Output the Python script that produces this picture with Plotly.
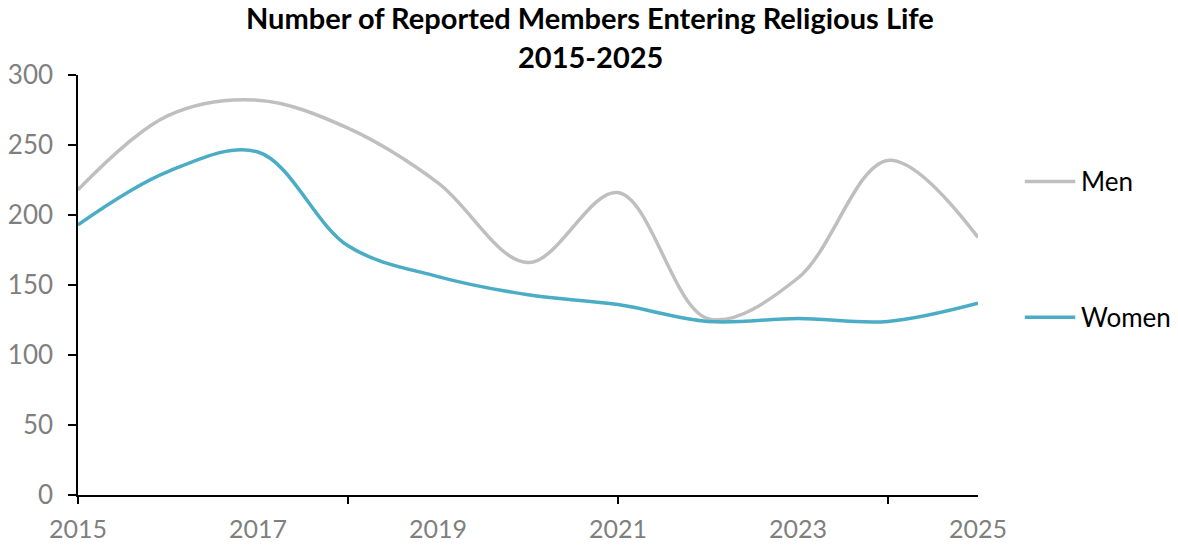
import plotly.graph_objects as go

years = [2015, 2016, 2017, 2018, 2019, 2020, 2021, 2022, 2023, 2024, 2025]
men = [218, 271, 282, 262, 223, 166, 216, 126, 155, 239, 184]
women = [193, 231, 245, 178, 156, 143, 136, 124, 126, 124, 137]
series_names = ["Men", "Women"]
colors = ["#bfbfbf", "#4bacc6"]
x_labels = [2015, 2017, 2019, 2021, 2023, 2025]
y_ticks = [0, 50, 100, 150, 200, 250, 300]
title_lines = ["Number of Reported Members Entering Religious Life", "2015-2025"]

FONT = "Lato"

fig = go.Figure()
for name, vals, col in zip(series_names, [men, women], colors):
    fig.add_trace(go.Scatter(
        x=years, y=vals, name=name, mode="lines",
        line=dict(color=col, width=3.5, shape="spline", smoothing=1.0),
        showlegend=False,
    ))

# custom legend to the right
legend_y = [224, 127]
for name, col, ly in zip(series_names, colors, legend_y):
    fig.add_shape(type="line", xref="paper", yref="y",
                  x0=1.052, x1=1.108, y0=ly, y1=ly,
                  line=dict(color=col, width=3.5))
    fig.add_annotation(xref="paper", yref="y", x=1.112, y=ly, text=name,
                       showarrow=False, xanchor="left", yanchor="middle",
                       font=dict(family=FONT, size=26, color="#000000"))

# title (two lines)
for txt, ty in zip(title_lines, [1.136, 1.043]):
    fig.add_annotation(xref="paper", yref="paper", x=0.569, y=ty,
                       text="<b>" + txt + "</b>", showarrow=False,
                       xanchor="center", yanchor="middle",
                       font=dict(family=FONT, size=29, color="#000000"))

fig.update_layout(
    width=1178, height=548,
    margin=dict(l=78, r=200, t=75, b=53),
    paper_bgcolor="white", plot_bgcolor="white",
    font=dict(family=FONT),
)
fig.update_xaxes(
    range=[2015, 2025], tickvals=x_labels, ticktext=[str(v) for v in x_labels],
    ticks="", showgrid=False, zeroline=False, automargin=False,
    showline=True, linecolor="#000000", linewidth=1.5,
    ticklabelstandoff=11,
    tickfont=dict(family=FONT, size=25, color="#7f7f7f"),
    minor=dict(tickvals=[2015, 2018, 2021, 2024], ticks="outside", ticklen=7,
               tickcolor="#000000", tickwidth=1.5, showgrid=False),
)
fig.update_yaxes(
    range=[0, 300], tickvals=y_ticks, ticks="outside", ticklen=8,
    tickcolor="#000000", tickwidth=1.5, showgrid=False, zeroline=False,
    automargin=False,
    showline=True, linecolor="#000000", linewidth=1.5,
    ticklabelstandoff=10,
    tickfont=dict(family=FONT, size=26, color="#7f7f7f"),
)

fig.write_html("out.html")
